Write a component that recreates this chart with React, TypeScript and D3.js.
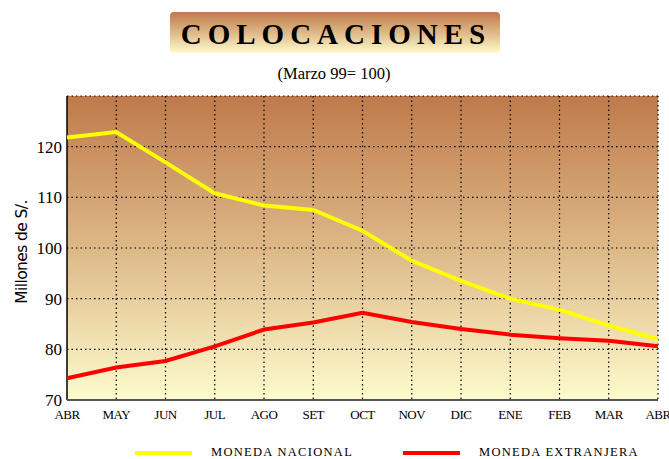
import React, { useEffect, useRef } from 'react';
import * as d3 from 'd3';

const months = ['ABR', 'MAY', 'JUN', 'JUL', 'AGO', 'SET', 'OCT', 'NOV', 'DIC', 'ENE', 'FEB', 'MAR', 'ABR'];
const monedaNacional = [121.8, 122.9, 116.9, 110.8, 108.4, 107.5, 103.4, 97.5, 93.5, 90.0, 87.8, 84.7, 82.0];
const monedaExtranjera = [74.3, 76.4, 77.7, 80.6, 83.9, 85.3, 87.2, 85.4, 84.0, 82.9, 82.2, 81.7, 80.6];
const yTicks = [70, 80, 90, 100, 110, 120];

const App = () => {
  const ref = useRef(null);

  useEffect(() => {
    const width = 669;
    const height = 459;
    const left = 67, right = 658, top = 96, bottom = 400;
    const serif = '"Liberation Serif", "Times New Roman", serif';

    const svg = d3.select(ref.current).attr('width', width).attr('height', height);
    svg.selectAll('*').remove();

    const defs = svg.append('defs');
    const grad = defs.append('linearGradient').attr('id', 'bg').attr('x1', 0).attr('y1', 0).attr('x2', 0).attr('y2', 1);
    grad.append('stop').attr('offset', '0%').attr('stop-color', '#BF7A4B');
    grad.append('stop').attr('offset', '50%').attr('stop-color', '#DEB887');
    grad.append('stop').attr('offset', '100%').attr('stop-color', '#FDFBCD');

    // title box
    svg.append('rect')
      .attr('x', 170).attr('y', 12).attr('width', 330).attr('height', 41)
      .attr('rx', 4).attr('fill', 'url(#bg)');
    svg.append('text')
      .attr('x', 336).attr('y', 44)
      .attr('text-anchor', 'middle')
      .style('font-family', serif)
      .style('font-weight', 'bold')
      .style('font-size', '29px')
      .style('letter-spacing', '6px')
      .text('COLOCACIONES');
    svg.append('text')
      .attr('x', 334).attr('y', 79)
      .attr('text-anchor', 'middle')
      .style('font-family', serif)
      .style('font-size', '16.5px')
      .text('(Marzo 99= 100)');

    const x = d3.scalePoint().domain(d3.range(months.length)).range([left, right]);
    const y = d3.scaleLinear().domain([70, 130]).range([bottom, top]);

    svg.append('rect')
      .attr('x', left).attr('y', top).attr('width', right - left).attr('height', bottom - top)
      .attr('fill', 'url(#bg)');

    // grid
    const grid = svg.append('g').attr('stroke', '#000').attr('stroke-width', 1.2).attr('stroke-dasharray', '1.5,3');
    grid.selectAll('.gy').data([...yTicks.slice(1), 130]).enter().append('line')
      .attr('x1', left).attr('x2', right)
      .attr('y1', (d) => y(d)).attr('y2', (d) => y(d));
    grid.selectAll('.gx').data(d3.range(1, months.length)).enter().append('line')
      .attr('x1', (d) => x(d)).attr('x2', (d) => x(d))
      .attr('y1', top).attr('y2', bottom);

    // axes lines
    svg.append('line').attr('x1', left).attr('x2', left).attr('y1', top).attr('y2', bottom)
      .attr('stroke', '#000').attr('stroke-width', 1.5);
    svg.append('line').attr('x1', left).attr('x2', right).attr('y1', bottom).attr('y2', bottom)
      .attr('stroke', '#555').attr('stroke-width', 2);

    svg.append('g').selectAll('text').data(yTicks).enter().append('text')
      .attr('x', 62).attr('y', (d) => y(d) + 6)
      .attr('text-anchor', 'end')
      .style('font-family', serif).style('font-size', '17px')
      .text((d) => d);

    svg.append('g').selectAll('text').data(months).enter().append('text')
      .attr('x', (d, i) => x(i)).attr('y', 419)
      .attr('text-anchor', 'middle')
      .style('font-family', serif).style('font-size', '13px')
      .style('letter-spacing', '-0.5px')
      .text((d) => d);

    svg.append('text')
      .attr('transform', 'translate(27,252) rotate(-90)')
      .attr('text-anchor', 'middle')
      .style('font-family', '"DejaVu Sans", sans-serif')
      .style('font-size', '15.5px')
      .style('letter-spacing', '-0.6px')
      .text('Millones de S/.');

    const line = d3.line().x((d, i) => x(i)).y((d) => y(d));
    svg.append('path').datum(monedaExtranjera)
      .attr('d', line).attr('fill', 'none').attr('stroke', '#FF0000').attr('stroke-width', 4);
    svg.append('path').datum(monedaNacional)
      .attr('d', line).attr('fill', 'none').attr('stroke', '#FFFF00').attr('stroke-width', 4);

    // legend
    const legend = [
      { label: 'MONEDA NACIONAL', color: '#FFFF00', lx: 135, tx: 211 },
      { label: 'MONEDA EXTRANJERA', color: '#FF0000', lx: 403, tx: 479 },
    ];
    const lg = svg.append('g').selectAll('g').data(legend).enter().append('g');
    lg.append('line')
      .attr('x1', (d) => d.lx).attr('x2', (d) => d.lx + 57)
      .attr('y1', 453).attr('y2', 453)
      .attr('stroke', (d) => d.color).attr('stroke-width', 4);
    lg.append('text')
      .attr('x', (d) => d.tx).attr('y', 456)
      .style('font-family', serif).style('font-size', '12.5px')
      .style('letter-spacing', '1.3px')
      .text((d) => d.label);
  }, []);

  return (
    <div style={{ position: 'absolute', left: 0, top: 0 }}>
      <svg ref={ref} style={{ display: 'block' }}></svg>
    </div>
  );
};

export default App;
